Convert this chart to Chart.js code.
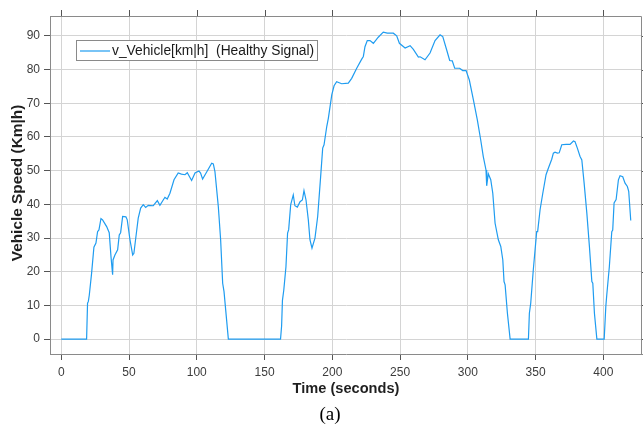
<!DOCTYPE html>
<html>
<head>
<meta charset="utf-8">
<script src="https://cdn.jsdelivr.net/npm/chart.js@4.4.0/dist/chart.umd.min.js"></script>
<style>
  html, body { margin: 0; padding: 0; background: #ffffff; }
  #wrap { width: 643px; height: 426px; position: relative; }
</style>
</head>
<body>
<div id="wrap"><canvas id="c" width="643" height="426"></canvas></div>
<script>
// ---- data ----
const timeSec = [
  0, 18.7, 19.4, 20.0, 20.7, 22.4, 24.1, 25.6, 26.8, 27.8, 29.3, 30.5, 33.5, 35.4, 36.7, 37.9, 38.2,
  39.6, 41.6, 42.8, 43.8, 45.3, 47.7, 48.7, 50.7, 52.7, 53.6, 55.1, 56.8, 58.6, 60.5, 62.3, 64.2,
  67.9, 70.9, 72.8, 76.5, 78.2, 80.2, 83.2, 86.3, 88.7, 91.3, 93.0, 96.2, 98.7, 101.6, 102.8, 104.3,
  107.3, 111.0, 112.2, 113.4, 115.9, 117.6, 119.1, 120.1, 123.3,
  161.8, 162.6, 163.2, 164.2, 165.8, 167.0, 167.8, 169.3, 171.2, 172.4, 174.2, 176.2, 177.9, 179.1,
  180.6, 182.3, 183.5, 185.0, 187.2, 189.2, 191.4, 192.9, 193.9, 195.9, 197.1, 199.6, 201.3, 203.2,
  206.9, 211.8, 214.3, 218.0, 221.7, 222.9, 224.1, 225.8, 227.8, 230.3, 233.9, 237.6, 240.6, 245.0,
  247.5, 249.5, 253.7, 257.4, 259.8, 263.5, 264.8, 268.4, 272.1, 275.8, 279.5, 281.5, 284.4, 286.6,
  288.5, 290.3, 294.0, 296.2, 298.7, 301.1, 304.1, 307.0, 309.5, 311.4, 313.4, 313.9, 315.1, 316.9,
  318.4, 320.1, 322.5, 324.3, 325.8, 326.7, 327.5, 329.2, 331.2,
  344.7, 345.4, 346.4, 348.3, 350.8, 351.5, 353.3, 355.3, 357.7, 359.4, 361.9, 363.1, 364.3, 366.1,
  367.4, 369.3, 372.5, 375.4, 377.9, 379.1, 380.8, 382.8, 384.1, 385.8, 387.8, 389.7, 391.5, 392.2,
  393.4, 395.2, 400.6, 401.8, 402.5, 404.4, 406.2, 406.9, 407.9, 409.4, 411.1, 412.3, 414.3, 416.0,
  417.7, 418.7, 420.2
];
const speedKmh = [
  0, 0, 10.7, 11.2, 13.1, 19.6, 27.3, 28.5, 31.9, 32.4, 35.8, 35.4, 33.4, 31.6, 24.5, 19.1, 23.5,
  25.0, 26.5, 30.9, 31.6, 36.4, 36.3, 35.4, 29.5, 25.0, 25.5, 30.4, 35.9, 38.9, 39.9, 39.1, 39.7,
  39.6, 41.1, 39.7, 42.1, 41.6, 43.3, 47.3, 49.3, 49.0, 48.8, 49.4, 47.1, 49.3, 49.9, 49.3, 47.5,
  49.6, 52.2, 52.0, 49.7, 39.3, 29.5, 16.6, 14.1, 0,
  0, 4.0, 11.5, 14.6, 21.5, 31.5, 32.5, 39.9, 42.8, 39.6, 39.2, 40.8, 41.3, 44.1,
  41.3, 35.4, 29.5, 27.0, 30.0, 36.4, 48.3, 56.7, 57.7, 63.1, 65.6, 72.5, 75.2, 76.4,
  75.8, 76.0, 77.4, 80.4, 83.1, 83.9, 86.8, 88.6, 88.6, 87.8, 89.6, 91.1, 90.8, 90.8,
  90.0, 87.8, 86.4, 87.1, 86.0, 83.7, 83.8, 82.9, 84.9, 88.6, 90.3, 89.8, 85.8, 82.7,
  82.6, 80.4, 80.4, 79.7, 79.7, 76.9, 71.0, 65.1, 59.1, 54.2, 50.2, 45.5, 49.1, 47.3,
  43.3, 34.4, 29.5, 27.5, 23.5, 17.1, 16.1, 7.7, 0,
  0, 7.7, 10.7, 20.6, 31.9, 31.9, 38.4, 43.3, 48.8, 50.7, 53.4, 55.2, 55.5, 55.2,
  55.3, 57.7, 57.8, 57.8, 58.8, 58.6, 56.7, 54.2, 53.2, 46.3, 37.4, 27.5, 17.1, 16.6,
  7.7, 0, 0, 9.7, 13.1, 21.5, 31.9, 32.4, 40.4, 41.4, 47.3, 48.5, 48.2, 46.3,
  45.3, 43.9, 35.2
];
const xTickValues = [0, 50, 100, 150, 200, 250, 300, 350, 400];
const yTickValues = [0, 10, 20, 30, 40, 50, 60, 70, 80, 90];
const seriesLabel = 'v_Vehicle[km|h]  (Healthy Signal)';
const xTitle = 'Time (seconds)';
const yTitle = 'Vehicle Speed (Km|h)';
const caption = '(a)';

// ---- chart ----
const points = timeSec.map((t, i) => ({ x: t, y: speedKmh[i] }));
const SANS = '"Liberation Sans", Arial, sans-serif';

const decorPlugin = {
  id: 'decor',
  afterDraw(chart) {
    const ctx = chart.ctx;
    const a = chart.chartArea;
    const xs = chart.scales.x, ys = chart.scales.y;
    ctx.save();
    // box top/right
    ctx.strokeStyle = '#8a8a8a';
    ctx.lineWidth = 1;
    ctx.beginPath();
    ctx.moveTo(Math.round(a.left) + 0.5, Math.round(a.top) + 0.5);
    ctx.lineTo(Math.round(a.right) - 0.5, Math.round(a.top) + 0.5);
    ctx.lineTo(Math.round(a.right) - 0.5, Math.round(a.bottom) + 0.5);
    ctx.stroke();
    // top and right outward ticks
    ctx.strokeStyle = '#555555';
    ctx.beginPath();
    xTickValues.forEach(v => {
      const px = Math.round(xs.getPixelForValue(v)) + 0.5;
      ctx.moveTo(px, a.top);
      ctx.lineTo(px, a.top - 6);
    });
    yTickValues.forEach(v => {
      const py = Math.round(ys.getPixelForValue(v)) + 0.5;
      ctx.moveTo(a.right, py);
      ctx.lineTo(a.right + 6, py);
    });
    ctx.stroke();

    // legend
    const ds = chart.data.datasets[0];
    const lx = 76.5, ly = 40.5, lw = 241, lh = 20;
    ctx.fillStyle = '#ffffff';
    ctx.fillRect(lx, ly, lw, lh);
    ctx.strokeStyle = '#8a8a8a';
    ctx.lineWidth = 1;
    ctx.strokeRect(lx, ly, lw, lh);
    ctx.strokeStyle = ds.borderColor;
    ctx.lineWidth = 1.2;
    ctx.beginPath();
    ctx.moveTo(80, 51);
    ctx.lineTo(110, 51);
    ctx.stroke();
    ctx.fillStyle = '#1a1a1a';
    ctx.font = '13.8px ' + SANS;
    ctx.textAlign = 'left';
    ctx.textBaseline = 'middle';
    ctx.fillText(ds.label, 112, 51);

    // axis titles
    ctx.fillStyle = '#1f1f1f';
    ctx.font = 'bold 14.6px ' + SANS;
    ctx.textAlign = 'center';
    ctx.textBaseline = 'middle';
    ctx.fillText(xTitle, 346, 389);
    ctx.save();
    ctx.translate(17.5, 183);
    ctx.rotate(-Math.PI / 2);
    ctx.font = 'bold 15.4px ' + SANS;
    ctx.fillText(yTitle, 0, 0);
    ctx.restore();

    // caption
    ctx.fillStyle = '#000000';
    ctx.font = '19px "Liberation Serif", "Times New Roman", serif';
    ctx.fillText(caption, 330, 415);
    ctx.restore();
  }
};

new Chart(document.getElementById('c'), {
  type: 'line',
  data: {
    datasets: [{
      label: seriesLabel,
      data: points,
      borderColor: '#1f9cf0',
      borderWidth: 1.2,
      pointRadius: 0,
      fill: false,
      tension: 0
    }]
  },
  options: {
    responsive: false,
    animation: false,
    parsing: true,
    layout: { padding: { top: 16, right: 1, left: 0, bottom: 0 } },
    plugins: { legend: { display: false }, tooltip: { enabled: false }, title: { display: false } },
    scales: {
      x: {
        type: 'linear',
        position: 'bottom',
        min: -8.3,
        max: 428.5,
        afterBuildTicks: s => { s.ticks = xTickValues.map(v => ({ value: v })); },
        afterFit: s => { s.height = 72; },
        grid: { color: '#d4d4d4', lineWidth: 1, tickColor: '#555555', tickLength: 6, drawTicks: true },
        border: { display: true, color: '#8a8a8a', width: 1 },
        ticks: { color: '#3c3c3c', font: { family: SANS, size: 12 }, padding: 5, maxRotation: 0, autoSkip: false }
      },
      y: {
        type: 'linear',
        position: 'left',
        min: -4.4,
        max: 95.9,
        afterBuildTicks: s => { s.ticks = yTickValues.map(v => ({ value: v })); },
        afterFit: s => { s.width = 50; },
        grid: { color: '#d4d4d4', lineWidth: 1, tickColor: '#555555', tickLength: 6, drawTicks: true },
        border: { display: true, color: '#8a8a8a', width: 1 },
        ticks: { color: '#3c3c3c', font: { family: SANS, size: 12 }, padding: 4, autoSkip: false }
      }
    }
  },
  plugins: [decorPlugin]
});
</script>
</body>
</html>
